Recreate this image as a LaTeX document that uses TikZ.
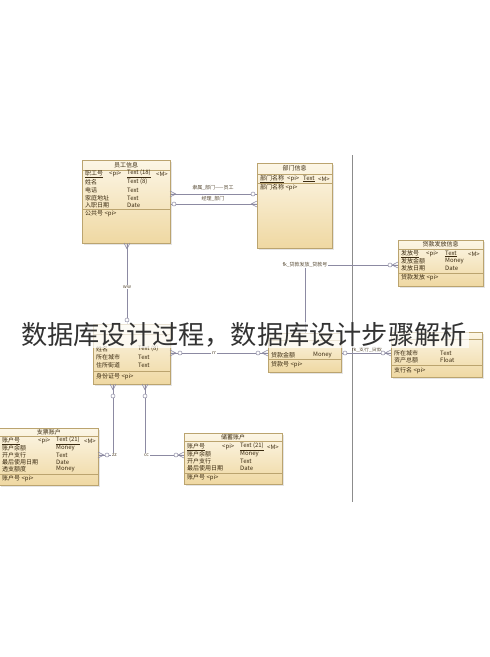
\documentclass[tikz,border=0pt]{standalone}
\usepackage{fontspec}
\setmainfont{Noto Sans CJK SC}
\usetikzlibrary{calc}
\definecolor{crA}{HTML}{FCF6E6}
\definecolor{crB}{HTML}{EFD8A2}
\definecolor{bx}{HTML}{BBA46F}
\definecolor{cn}{HTML}{8C8AA2}
\definecolor{tx}{HTML}{3A2A10}
\tikzset{
  ent/.style={draw=bx, line width=0.6pt, top color=crA, bottom color=crB, inner sep=0pt, anchor=north west},
  t/.style={font=\fontsize{6}{6}\selectfont, text=tx, inner sep=0pt, anchor=west},
  th/.style={font=\fontsize{6}{6}\selectfont, text=tx, inner sep=0pt},
  hl/.style={draw=bx, line width=0.5pt},
  cnl/.style={draw=cn, line width=0.6pt},
  lbl/.style={font=\fontsize{5}{5}\selectfont, text=tx!85, fill=white, inner sep=0.8pt},
  crow/.pic={\draw[cn, line width=0.5pt] (6,0) -- (0,3) (6,0) -- (0,-3) (6,0) -- (0,0);},
  circ/.pic={\draw[cn, line width=0.5pt, fill=white] (0,0) circle (2);}
}
\newcommand\entbox[5]{%
  \fill[black!10] (#2+2,#3+2) rectangle (#4+2,#5+2);
  \node[ent, minimum width={#4pt-#2pt}, minimum height={#5pt-#3pt}] (#1) at (#2,#3) {};}
\begin{document}
\begin{tikzpicture}[x=1pt,y=-1pt]
\useasboundingbox (0,0) rectangle (490,657);
\fill[white] (0,0) rectangle (490,657);

% separator
\draw[black!45, line width=1pt] (352,155) -- (352,502);

% ---------- 员工信息
\entbox{emp}{82}{160}{170}{243}
\draw[hl] (82,170) -- (170,170);
\node[th] (empH) at (126,165) {员工信息};
\node[t] at (85,174) {\underline{职工号}};
\node[t] at (109,174) {<pi>};
\node[t] at (127,174) {\underline{Text (18)}};
\node[t] at (156,174) {<M>};
\node[t] at (85,182) {姓名};   \node[t] at (127,182) {Text (8)};
\node[t] at (85,190) {电话};   \node[t] at (127,190) {Text};
\node[t] at (85,198) {家庭地址}; \node[t] at (127,198) {Text};
\node[t] at (85,205) {入职日期}; \node[t] at (127,205) {Date};
\draw[hl] (82,209) -- (170,209);
\node[t] at (85,214) {公共号 <pi>};

% ---------- 部门信息
\entbox{dept}{257}{163}{332}{248}
\draw[hl] (257,174) -- (332,174);
\node[th] (deptH) at (294.5,168.5) {部门信息};
\node[t] at (260,179) {\underline{部门名称}};
\node[t] at (287,179) {<pi>};
\node[t] at (303,179) {\underline{Text}};
\node[t] at (318,179) {<M>};
\draw[hl] (257,183.5) -- (332,183.5);
\node[t] at (260,188) {部门名称 <pi>};

% ---------- 贷款发放信息
\entbox{iss}{398}{240}{483}{286}
\draw[hl] (398,249) -- (483,249);
\node[th] (issH) at (440.5,244.5) {贷款发放信息};
\node[t] at (401,254) {\underline{发放号}};
\node[t] at (426,254) {<pi>};
\node[t] at (445,254) {\underline{Text}};
\node[t] at (468,254) {<M>};
\node[t] at (401,261) {发放金额}; \node[t] at (445,261) {Money};
\node[t] at (401,268) {发放日期}; \node[t] at (445,268) {Date};
\draw[hl] (398,273) -- (483,273);
\node[t] at (401,278) {贷款发放 <pi>};

% ---------- 客户 (middle left)
\entbox{cust}{93}{324}{170}{384}
\draw[hl] (93,334) -- (170,334);
\node[t] at (96,349) {姓名};     \node[t] at (138,349) {Text (8)};
\node[t] at (96,357) {所在城市}; \node[t] at (138,357) {Text};
\node[t] at (96,365) {住所街道}; \node[t] at (138,365) {Text};
\draw[hl] (93,371) -- (170,371);
\node[t] at (96,377) {身份证号 <pi>};

% ---------- 贷款 (middle)
\entbox{loan}{268}{333}{341}{372}
\draw[hl] (268,340) -- (341,340);
\node[t] at (271,355) {贷款金额}; \node[t] at (313,355) {Money};
\draw[hl] (268,359) -- (341,359);
\node[t] at (271,365) {贷款号 <pi>};

% ---------- 支行 (middle right)
\entbox{br}{391}{332}{482}{377}
\draw[hl] (391,339) -- (482,339);
\node[t] at (394,353) {所在城市}; \node[t] at (440,353) {Text};
\node[t] at (394,360) {资产总额}; \node[t] at (440,360) {Float};
\draw[hl] (391,365) -- (482,365);
\node[t] at (394,371) {支行名 <pi>};

% ---------- 支票账户
\entbox{chk}{-1}{428}{98}{485}
\draw[hl] (-1,436) -- (98,436);
\node[th] (chkH) at (49,432) {支票账户};
\node[t] at (2,441) {\underline{账户号}};
\node[t] at (38,441) {<pi>};
\node[t] at (56,441) {\underline{Text (21)}};
\node[t] at (84,441) {<M>};
\node[t] at (2,448) {账户余额};     \node[t] at (56,448) {Money};
\node[t] at (2,455) {开户支行};     \node[t] at (56,455) {Text};
\node[t] at (2,462) {最后使用日期}; \node[t] at (56,462) {Date};
\node[t] at (2,469) {透支额度};     \node[t] at (56,469) {Money};
\draw[hl] (-1,474) -- (98,474);
\node[t] at (2,479) {账户号 <pi>};

% ---------- 储蓄账户
\entbox{sav}{184}{433}{282}{484}
\draw[hl] (184,441) -- (282,441);
\node[th] (savH) at (233,437) {储蓄账户};
\node[t] at (187,447) {\underline{账户号}};
\node[t] at (222,447) {<pi>};
\node[t] at (240,447) {\underline{Text (21)}};
\node[t] at (267,447) {<M>};
\node[t] at (187,454) {账户余额};     \node[t] at (240,454) {Money};
\node[t] at (187,461) {开户支行};     \node[t] at (240,461) {Text};
\node[t] at (187,468) {最后使用日期}; \node[t] at (240,468) {Date};
\draw[hl] (184,473) -- (282,473);
\node[t] at (187,478) {账户号 <pi>};

% ---------- connectors
\coordinate (yA) at (0,194);
\coordinate (yB) at (0,204);
\coordinate (yM) at (0,353);
\coordinate (yF) at (0,265);
\coordinate (yZ) at (0,455);
\coordinate (xW) at (127,0);
\coordinate (xL) at (305,0);
\coordinate (xZ) at (113,0);
\coordinate (xC) at (145,0);

\draw[cnl] (emp.east |- yA) -- (dept.west |- yA);
\pic at (170,194) {crow};
\pic at (253,194) {circ};
\node[lbl] (lA) at (213,188) {隶属\_部门——员工};

\draw[cnl] (emp.east |- yB) -- (dept.west |- yB);
\pic at (174,204) {circ};
\pic[rotate=180] at (257,204) {crow};
\node[lbl] (lB) at (213,198.5) {经理\_部门};

\draw[cnl] (emp.south -| xW) -- (cust.north -| xW);
\pic[rotate=-90] at (127,243) {crow};
\pic at (127,320) {circ};
\node[lbl] (lW) at (127,287) {ww};

\draw[cnl] (loan.north -| xL) |- (iss.west |- yF);
\pic[rotate=180] at (398,265) {crow};
\pic at (390,265) {circ};
\node[lbl] (lF) at (305,265) {fk\_贷款发放\_贷款号};

\draw[cnl] (cust.east |- yM) -- (loan.west |- yM);
\pic at (170,353) {crow};
\pic at (180,353) {circ};
\pic[rotate=180] at (268,353) {crow};
\pic at (258,353) {circ};
\node[lbl] (lR) at (214,353) {rr};

\draw[cnl] (loan.east |- yM) -- (br.west |- yM);
\pic at (345,353) {circ};
\pic[rotate=180] at (391,353) {crow};
\pic at (383,353) {circ};
\node[lbl, fill=none] (lS) at (367,349.5) {fk\_支行\_贷款};

\draw[cnl] (cust.south -| xZ) |- (chk.east |- yZ);
\pic[rotate=-90] at (113,384) {crow};
\pic at (113,396) {circ};
\pic at (98,455) {crow};
\pic at (107,455) {circ};
\node[lbl, anchor=west] (lZ) at (111,455) {zz};

\draw[cnl] (cust.south -| xC) |- (sav.west |- yZ);
\pic[rotate=-90] at (145,384) {crow};
\pic at (145,396) {circ};
\pic[rotate=180] at (184,455) {crow};
\pic at (176,455) {circ};
\node[lbl, anchor=west] (lC) at (143,455) {cc};

% ---------- title overlay
\node[font=\fontsize{26.2}{28}\selectfont, text=black!80, fill=white, fill opacity=0.7, text opacity=1, inner xsep=2pt, inner ysep=0.5pt] (title) at (244,335) {数据库设计过程，数据库设计步骤解析};
\end{tikzpicture}
\end{document}
